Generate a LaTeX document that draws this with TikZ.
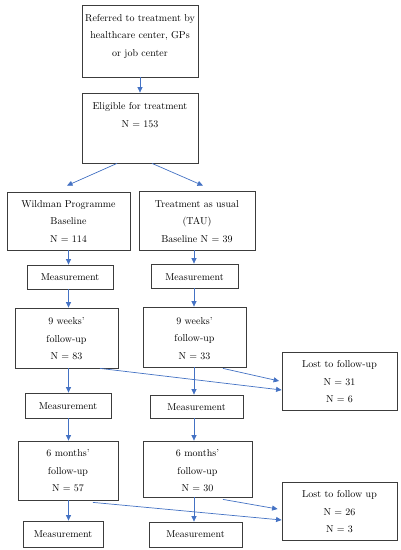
\documentclass[tikz,border=0pt]{standalone}
\usetikzlibrary{arrows.meta,calc}
\definecolor{arrblue}{RGB}{68,114,196}
\definecolor{bdrgray}{RGB}{60,60,60}
\newcommand{\ls}{\rule[-2.5pt]{0pt}{9.5pt}}
\begin{document}
\begin{tikzpicture}[x=1pt,y=-1pt,
  box/.style 2 args={draw=bdrgray,line width=0.8pt,minimum width=#1pt,minimum height=#2pt,inner sep=0pt},
  txt/.style={align=center,font=\fontsize{10}{17.5}\selectfont,inner sep=0pt},
  arw/.style={draw=arrblue,line width=0.7pt,-{Triangle[length=5.5pt,width=5pt]}}]
\useasboundingbox (0,0) rectangle (401,550);
\fill[white] (0,0) rectangle (401,550);
\coordinate (L) at (68.5,0);
\coordinate (R) at (194,0);
% boxes
\node[box={116}{72}] (ref) at (140,41) {};
\node[box={116}{70}] (elig) at (140,128) {};
\node[box={123}{58}] (wild) at (68.5,221) {};
\node[box={116}{59}] (tau) at (197,220.5) {};
\node[box={86}{24}] (m1) at (70,277) {};
\node[box={87}{24}] (m2) at (194.5,276) {};
\node[box={103}{60}] (wk1) at (66.5,338) {};
\node[box={103}{60}] (wk2) at (194.5,337) {};
\node[box={115}{58}] (lost1) at (339.5,381) {};
\node[box={86}{25}] (m3) at (68,405.5) {};
\node[box={93}{23}] (m4) at (196.5,406.5) {};
\node[box={100}{59}] (mo1) at (68,470.5) {};
\node[box={109}{56}] (mo2) at (197.5,469) {};
\node[box={115}{58}] (lost2) at (339.5,511) {};
\node[box={80}{26}] (m5) at (63,534) {};
\node[box={93}{25}] (m6) at (195.5,534.5) {};
% texts
\node[txt] (reft) at (140,36.7) {\ls Referred to treatment by\\\ls healthcare center, GPs\\\ls or job center};
\node[txt] (eligt) at (140,116) {\ls Eligible for treatment\\\ls N = 153};
\node[txt] (wildt) at (68.5,222.7) {\ls Wildman Programme\\\ls Baseline\\\ls N = 114};
\node[txt] (taut) at (197,222.7) {\ls Treatment as usual\\\ls (TAU)\\\ls Baseline N = 39};
\node[txt] (m1t) at (70,278) {\ls Measurement};
\node[txt] (m2t) at (194.5,278) {\ls Measurement};
\node[txt] (wk1t) at (66.5,340) {\ls 9 weeks'\\\ls follow-up\\\ls N = 83};
\node[txt] (wk2t) at (194.5,339.7) {\ls 9 weeks'\\\ls follow-up\\\ls N = 33};
\node[txt] (lost1t) at (339.5,383) {\ls Lost to follow-up\\\ls N = 31\\\ls N = 6};
\node[txt] (m3t) at (68,407) {\ls Measurement};
\node[txt] (m4t) at (196.5,408) {\ls Measurement};
\node[txt] (mo1t) at (68,472) {\ls 6 months'\\\ls follow-up\\\ls N = 57};
\node[txt] (mo2t) at (197.5,472) {\ls 6 months'\\\ls follow-up\\\ls N = 30};
\node[txt] (lost2t) at (339.5,513) {\ls Lost to follow up\\\ls N = 26\\\ls N = 3};
\node[txt] (m5t) at (63,535) {\ls Measurement};
\node[txt] (m6t) at (195.5,535) {\ls Measurement};
% arrows
\draw[arw] (ref.south) -- (elig.north);
\draw[arw] ($(elig.south)+(-23,0)$) -- ($(wild.north)+(-1.5,-6)$);
\draw[arw] ($(elig.south)+(12,0)$) -- ($(tau.north)+(6,-5)$);
\draw[arw] (wild.south -| L) -- (m1.north -| L);
\draw[arw] (tau.south -| R) -- (m2.north -| R);
\draw[arw] (m1.south -| L) -- (wk1.north -| L);
\draw[arw] (m2.south -| R) -- (wk2.north -| R);
\draw[arw] (wk1.south -| L) -- (m3.north -| L);
\draw[arw] (wk2.south -| R) -- (m4.north -| R);
\draw[arw] ($(wk1.south)+(33.5,0)$) -- ($(lost1.west)+(0,9)$);
\draw[arw] ($(wk2.south)+(28.5,1)$) -- ($(lost1.west)+(-2.5,0)$);
\draw[arw] (m3.south -| L) -- (mo1.north -| L);
\draw[arw] (m4.south -| R) -- (mo2.north -| R);
\draw[arw] (mo1.south -| L) -- (m5.north -| L);
\draw[arw] (mo2.south -| R) -- (m6.north -| R);
\draw[arw] ($(mo1.south)+(25,2)$) -- ($(lost2.west)+(0,9)$);
\draw[arw] ($(mo2.south)+(25.5,2)$) -- ($(lost2.west)+(-4,-2)$);
\end{tikzpicture}
\end{document}
